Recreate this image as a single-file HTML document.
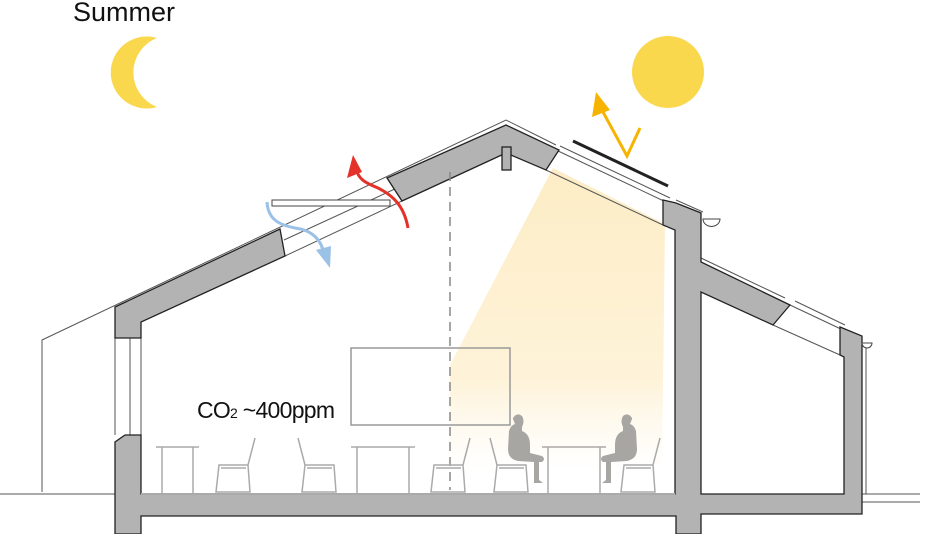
<!DOCTYPE html>
<html><head><meta charset="utf-8"><style>
html,body{margin:0;padding:0;background:#fff;}
svg{display:block;}
</style></head><body>
<svg width="940" height="534" viewBox="0 0 940 534" xmlns="http://www.w3.org/2000/svg">
<defs>
<linearGradient id="beam" x1="0" y1="0" x2="0" y2="1">
<stop offset="0" stop-color="#fdedc6"/><stop offset="0.7" stop-color="#fef3d9"/><stop offset="1" stop-color="#fef6e4" stop-opacity="0"/>
</linearGradient>
</defs>
<text x="73" y="21" font-family="Liberation Sans, sans-serif" font-size="27" fill="#111">Summer</text>
<!-- moon -->
<path d="M157 38 A36 36 0 1 0 157 107 A37 37 0 0 1 157 38 Z" fill="#f9d84e"/>
<!-- sun -->
<circle cx="668" cy="72" r="36" fill="#f9d84e"/>
<!-- light beam -->
<polygon points="553,168 665,224 662,470 450,470 450,365" fill="url(#beam)"/>
<!-- outer thin lines -->
<g fill="none" stroke="#555" stroke-width="1">
<polyline points="42,492 42,340 506,120 556,145"/>
<line x1="130" y1="338" x2="130" y2="435"/>
<line x1="115" y1="338" x2="115" y2="435"/>
<line x1="141" y1="338" x2="141" y2="494"/>
<line x1="285" y1="256" x2="402" y2="201"/>
<line x1="284" y1="240" x2="397" y2="188"/>
<line x1="546" y1="170" x2="663" y2="225"/>
<line x1="556" y1="150" x2="668" y2="203"/>
<line x1="560" y1="146" x2="670" y2="198"/>
<line x1="676" y1="200" x2="703" y2="212"/>
<line x1="701" y1="258" x2="785" y2="298"/>
<line x1="790" y1="305" x2="843" y2="330"/>
<line x1="795" y1="301" x2="845" y2="325"/>
<line x1="773" y1="325" x2="840" y2="355"/>
<line x1="866" y1="345" x2="866" y2="494"/>
<line x1="0" y1="494" x2="115" y2="494"/>
<line x1="861" y1="494" x2="920" y2="494"/>
<line x1="861" y1="502" x2="920" y2="502"/>
</g>
<!-- window sash -->
<rect x="272" y="200" width="118" height="6" fill="#fff" stroke="#444" stroke-width="1"/>
<!-- gray structure -->
<g fill="#b3b3b3" stroke="#222" stroke-width="1.3">
<polygon points="115,307 280,229 285,256 141,322 141,338 115,338"/>
<polygon points="387,178 506,125 559,150 546,170 506,153 402,201"/>
<rect x="502" y="147" width="9" height="23"/>
<polygon points="663,200 676,203 701,213 701,262 790,305 773,325 701,292 701,494 844,494 844,357 840,355 840,327 862,336 862,514 701,514 701,534 676,534 676,516 141,516 141,534 115,534 115,442 125,435 141,435 141,494 675,494 675,230 663,225"/>
</g>
<line x1="141" y1="494" x2="675" y2="494" stroke="#aaa" stroke-width="2"/>
<!-- shade -->
<line x1="573" y1="141" x2="668" y2="186" stroke="#222" stroke-width="3"/>
<!-- gutters -->
<path d="M703 219 a8 7 0 0 0 17 0 z" fill="#fff" stroke="#444"/>
<path d="M862 343 a5 5 0 0 0 10 0 z" fill="#fff" stroke="#444"/>
<!-- dashed -->
<line x1="450" y1="172" x2="450" y2="490" stroke="#888" stroke-width="1.5" stroke-dasharray="9,6"/>
<!-- whiteboard -->
<rect x="351" y="348" width="159" height="77" fill="none" stroke="#999" stroke-width="1.5"/>
<text x="197" y="418" font-family="Liberation Sans Narrow, Liberation Sans, sans-serif" font-size="23" fill="#111" textLength="138">CO<tspan font-size="14">2</tspan> ~400ppm</text>
<!-- tables -->
<g fill="none" stroke="#aaa" stroke-width="1.5">
<path d="M156 447 H199 M162 447 V494 M193 447 V494"/>
<path d="M351 447 H415 M357 447 V494 M409 447 V494"/>
<path d="M542 447 H606 M548 447 V494 M600 447 V494"/>
</g>
<!-- chairs -->
<g fill="none" stroke="#aaa" stroke-width="1.5">
<path d="M219 465 H248 L250 492 H216 Z M221 468 H246 M248 465 L255 438"/>
<path d="M305 465 H334 L336 492 H302 Z M307 468 H332 M305 465 L298 438"/>
<path d="M434 465 H463 L465 492 H431 Z M436 468 H461 M463 465 L470 438"/>
<path d="M497 465 H526 L528 492 H494 Z M499 468 H524 M497 465 L490 438"/>
<path d="M624 465 H653 L655 492 H621 Z M626 468 H651 M653 465 L660 438"/>
</g>
<!-- people -->
<g fill="#a8a6a3">
<path d="M513 418 q4 -6 9 -2 q3 5 0 11 l0 4 q8 3 8 14 l0 8 l12 3 q4 3 0 6 l-3 0 l0 18 l4 3 l-9 0 l0 -21 l-16 -1 q-10 -2 -10 -12 l1 -18 q2 -6 6 -7 l-2 -5 z"/>
<path d="M632 418 q-4 -6 -9 -2 q-3 5 0 11 l0 4 q-8 3 -8 14 l0 8 l-12 3 q-4 3 0 6 l3 0 l0 18 l-4 3 l9 0 l0 -21 l16 -1 q10 -2 10 -12 l-1 -18 q-2 -6 -6 -7 l2 -5 z"/>
</g>
<!-- arrows -->
<g fill="none" stroke-width="3">
<path d="M408 228 C404 205 392 195 378 188 C366 183 360 180 357 172" stroke="#e4322b"/>
<path d="M267 202 C268 220 280 225 295 228 C312 230 322 240 324 255" stroke="#9bc1e6"/>
<path d="M640 128 L627 156 L603 112" stroke="#f6b400"/>
</g>
<polygon points="353,155 347,178 362,172" fill="#e4322b"/>
<polygon points="330,268 316,250 331,246" fill="#9bc1e6"/>
<polygon points="596,92 592,117 610,110" fill="#f6b400"/>
</svg>
</body></html>
